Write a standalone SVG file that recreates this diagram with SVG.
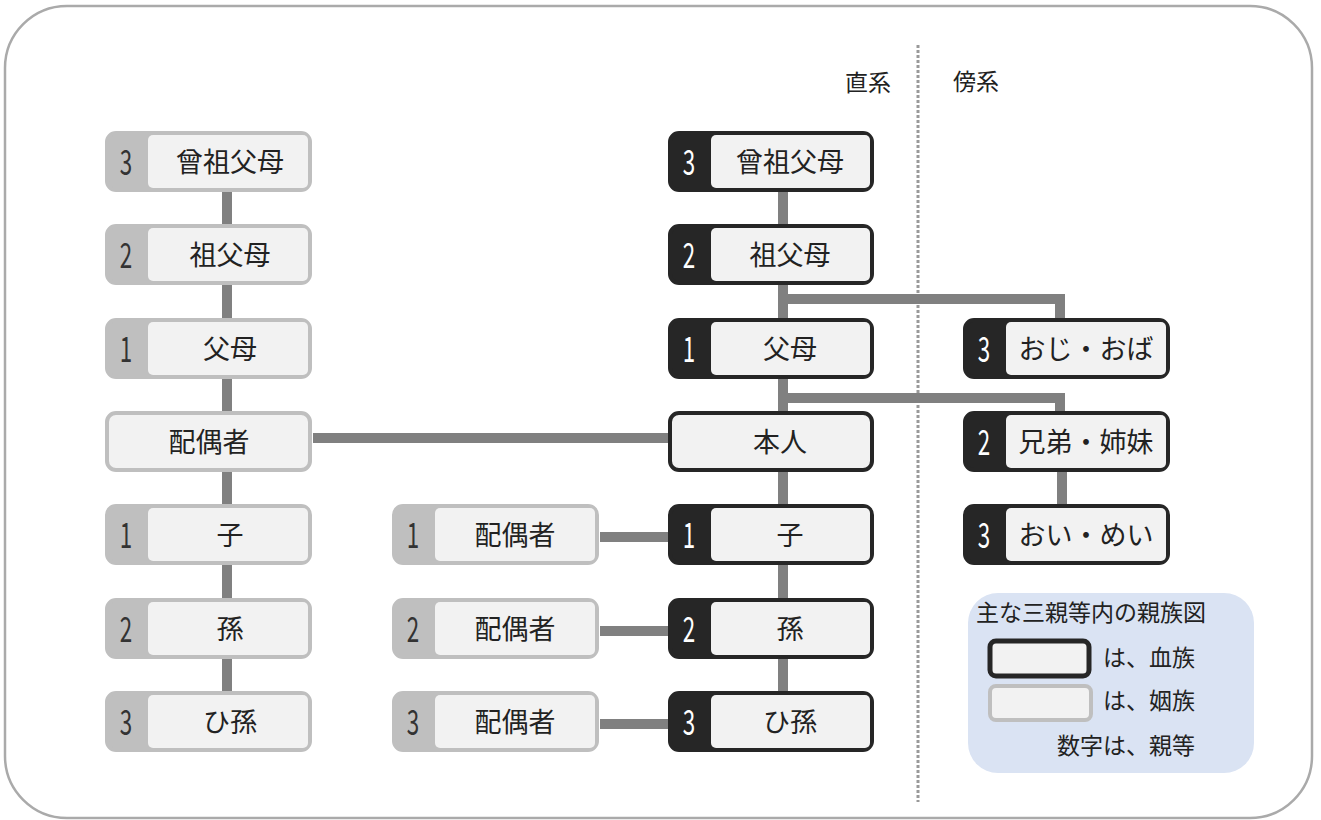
<svg xmlns="http://www.w3.org/2000/svg" width="1321" height="820" viewBox="0 0 1321 820">
<style>
.jp{font-family:"Noto Sans CJK JP","Noto Sans",sans-serif;font-size:27px;fill:#222;text-anchor:middle}
.num{font-family:"Noto Sans CJK JP","Noto Sans",sans-serif;font-size:35px;text-anchor:middle}
.b .o{fill:#262626;stroke:#262626;stroke-width:4}
.a .o{fill:#bfbfbf;stroke:#bfbfbf;stroke-width:4}
.b .num{fill:#fff}
.a .num{fill:#333}
.in{fill:#f2f2f2}
.b .u{fill:#f2f2f2;stroke:#262626;stroke-width:4}
.a .u{fill:#f2f2f2;stroke:#bfbfbf;stroke-width:4}
.con{stroke:#808080;stroke-width:10;fill:none}
.lg{font-family:"Noto Sans CJK JP","Noto Sans",sans-serif;font-size:23px;fill:#222}
</style>
<rect x="5" y="6" width="1307" height="812" rx="62" fill="#fff" stroke="#aaa" stroke-width="2.5"/>
<line x1="918" y1="45" x2="918" y2="802" stroke="#999" stroke-width="3" stroke-dasharray="3,2"/>
<text class="lg" x="845" y="91">直系</text>
<text class="lg" x="953" y="90">傍系</text>
<g id="connectors">
<path class="con" d="M227 161V722"/>
<path class="con" d="M783 161V722"/>
<path class="con" d="M783 299H1060V322"/>
<path class="con" d="M783 398H1060V415"/>
<path class="con" d="M1062 441V536"/>
<path class="con" d="M313 438H670"/>
<path class="con" d="M600 537H670"/>
<path class="con" d="M600 631H670"/>
<path class="con" d="M600 724H670"/>
</g>
<!-- left column -->
<g id="L1" class="a"><rect class="o" x="107" y="133" width="203" height="57" rx="9"/><rect class="in" x="148" y="135" width="160" height="53" rx="5"/><text class="num" transform="translate(126 175) scale(0.64 1)">3</text><text class="jp" x="230" y="172">曾祖父母</text></g>
<g id="L2" class="a"><rect class="o" x="107" y="226" width="203" height="57" rx="9"/><rect class="in" x="148" y="228" width="160" height="53" rx="5"/><text class="num" transform="translate(126 268) scale(0.64 1)">2</text><text class="jp" x="230" y="265">祖父母</text></g>
<g id="L3" class="a"><rect class="o" x="107" y="320" width="203" height="57" rx="9"/><rect class="in" x="148" y="322" width="160" height="53" rx="5"/><text class="num" transform="translate(126 362) scale(0.64 1)">1</text><text class="jp" x="230" y="359">父母</text></g>
<g id="L4" class="a"><rect class="u" x="107" y="413" width="203" height="57" rx="9"/><text class="jp" x="209" y="452">配偶者</text></g>
<g id="L5" class="a"><rect class="o" x="107" y="506" width="203" height="57" rx="9"/><rect class="in" x="148" y="508" width="160" height="53" rx="5"/><text class="num" transform="translate(126 548) scale(0.64 1)">1</text><text class="jp" x="230" y="545">子</text></g>
<g id="L6" class="a"><rect class="o" x="107" y="600" width="203" height="57" rx="9"/><rect class="in" x="148" y="602" width="160" height="53" rx="5"/><text class="num" transform="translate(126 642) scale(0.64 1)">2</text><text class="jp" x="230" y="639">孫</text></g>
<g id="L7" class="a"><rect class="o" x="107" y="693" width="203" height="57" rx="9"/><rect class="in" x="148" y="695" width="160" height="53" rx="5"/><text class="num" transform="translate(126 735) scale(0.64 1)">3</text><text class="jp" x="230" y="732">ひ孫</text></g>
<!-- middle spouse column -->
<g id="M5" class="a"><rect class="o" x="394" y="506" width="203" height="57" rx="9"/><rect class="in" x="435" y="508" width="160" height="53" rx="5"/><text class="num" transform="translate(413 548) scale(0.64 1)">1</text><text class="jp" x="515" y="545">配偶者</text></g>
<g id="M6" class="a"><rect class="o" x="394" y="600" width="203" height="57" rx="9"/><rect class="in" x="435" y="602" width="160" height="53" rx="5"/><text class="num" transform="translate(413 642) scale(0.64 1)">2</text><text class="jp" x="515" y="639">配偶者</text></g>
<g id="M7" class="a"><rect class="o" x="394" y="693" width="203" height="57" rx="9"/><rect class="in" x="435" y="695" width="160" height="53" rx="5"/><text class="num" transform="translate(413 735) scale(0.64 1)">3</text><text class="jp" x="515" y="732">配偶者</text></g>
<!-- center column -->
<g id="C1" class="b"><rect class="o" x="670" y="133" width="202" height="57" rx="9"/><rect class="in" x="711" y="135" width="159" height="53" rx="5"/><text class="num" transform="translate(689 175) scale(0.64 1)">3</text><text class="jp" x="790" y="172">曾祖父母</text></g>
<g id="C2" class="b"><rect class="o" x="670" y="226" width="202" height="57" rx="9"/><rect class="in" x="711" y="228" width="159" height="53" rx="5"/><text class="num" transform="translate(689 268) scale(0.64 1)">2</text><text class="jp" x="790" y="265">祖父母</text></g>
<g id="C3" class="b"><rect class="o" x="670" y="320" width="202" height="57" rx="9"/><rect class="in" x="711" y="322" width="159" height="53" rx="5"/><text class="num" transform="translate(689 362) scale(0.64 1)">1</text><text class="jp" x="790" y="359">父母</text></g>
<g id="C4" class="b"><rect class="u" x="670" y="413" width="202" height="57" rx="9"/><text class="jp" x="780" y="452">本人</text></g>
<g id="C5" class="b"><rect class="o" x="670" y="506" width="202" height="57" rx="9"/><rect class="in" x="711" y="508" width="159" height="53" rx="5"/><text class="num" transform="translate(689 548) scale(0.64 1)">1</text><text class="jp" x="790" y="545">子</text></g>
<g id="C6" class="b"><rect class="o" x="670" y="600" width="202" height="57" rx="9"/><rect class="in" x="711" y="602" width="159" height="53" rx="5"/><text class="num" transform="translate(689 642) scale(0.64 1)">2</text><text class="jp" x="790" y="639">孫</text></g>
<g id="C7" class="b"><rect class="o" x="670" y="693" width="202" height="57" rx="9"/><rect class="in" x="711" y="695" width="159" height="53" rx="5"/><text class="num" transform="translate(689 735) scale(0.64 1)">3</text><text class="jp" x="790" y="732">ひ孫</text></g>
<!-- right column -->
<g id="R3" class="b"><rect class="o" x="965" y="320" width="203" height="57" rx="9"/><rect class="in" x="1006" y="322" width="160" height="53" rx="5"/><text class="num" transform="translate(984 362) scale(0.64 1)">3</text><text class="jp" x="1086" y="359">おじ・おば</text></g>
<g id="R4" class="b"><rect class="o" x="965" y="413" width="203" height="57" rx="9"/><rect class="in" x="1006" y="415" width="160" height="53" rx="5"/><text class="num" transform="translate(984 455) scale(0.64 1)">2</text><text class="jp" x="1086" y="452">兄弟・姉妹</text></g>
<g id="R5" class="b"><rect class="o" x="965" y="506" width="203" height="57" rx="9"/><rect class="in" x="1006" y="508" width="160" height="53" rx="5"/><text class="num" transform="translate(984 548) scale(0.64 1)">3</text><text class="jp" x="1086" y="545">おい・めい</text></g>
<!-- legend -->
<g id="legend">
<rect x="968" y="593" width="286" height="180" rx="30" fill="#dae3f3"/>
<text class="lg" x="976" y="621">主な三親等内の親族図</text>
<rect x="990" y="641" width="99" height="35" rx="6" fill="#f2f2f2" stroke="#262626" stroke-width="5"/>
<rect x="990" y="686" width="101" height="34" rx="6" fill="#f2f2f2" stroke="#bfbfbf" stroke-width="4"/>
<text class="lg" x="1103" y="666">は、血族</text>
<text class="lg" x="1103" y="709">は、姻族</text>
<text class="lg" x="1057" y="754">数字は、親等</text>
</g>
</svg>
